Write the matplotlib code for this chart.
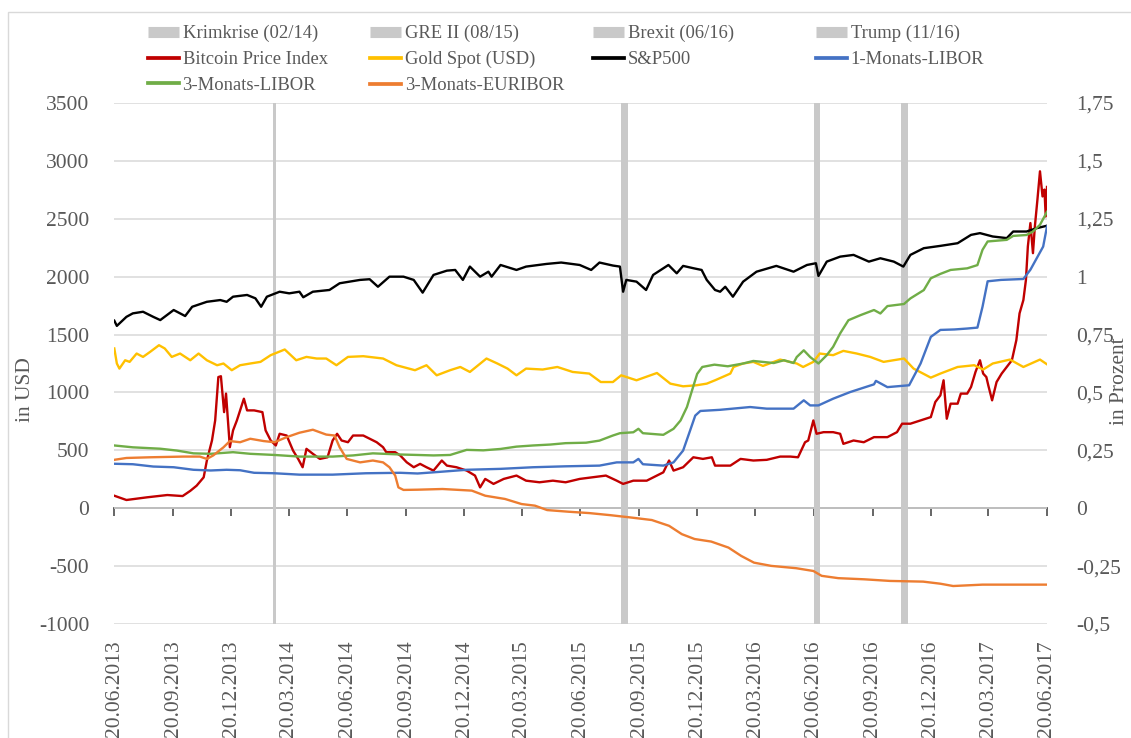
import numpy as np
import pandas as pd
import matplotlib
matplotlib.use("Agg")
import matplotlib.pyplot as plt
from matplotlib.lines import Line2D
from matplotlib.patches import Rectangle
from matplotlib.ticker import FuncFormatter

plt.rcParams['font.family'] = ['Liberation Serif', 'DejaVu Serif']
plt.rcParams['axes.unicode_minus'] = False

# ========================= DATA =========================
# left axis, USD
bitcoin = [
    ('2013-06-20', 108), ('2013-07-09', 71), ('2013-08-10', 94), ('2013-09-11', 114),
    ('2013-10-05', 105), ('2013-10-17', 150), ('2013-10-27', 195), ('2013-11-07', 267),
    ('2013-11-12', 412), ('2013-11-20', 585), ('2013-11-25', 758), ('2013-11-30', 1133),
    ('2013-12-04', 1140), ('2013-12-09', 830), ('2013-12-12', 990), ('2013-12-18', 527),
    ('2013-12-23', 672), ('2013-12-29', 758), ('2014-01-09', 946), ('2014-01-14', 845),
    ('2014-01-25', 845), ('2014-02-07', 830), ('2014-02-12', 672), ('2014-02-20', 585),
    ('2014-02-28', 542), ('2014-03-06', 643), ('2014-03-17', 628), ('2014-03-27', 498),
    ('2014-04-04', 426), ('2014-04-11', 354), ('2014-04-17', 513), ('2014-04-27', 470),
    ('2014-05-08', 426), ('2014-05-20', 440), ('2014-05-28', 585), ('2014-06-04', 643),
    ('2014-06-11', 585), ('2014-06-21', 570), ('2014-06-29', 628), ('2014-07-15', 628),
    ('2014-07-25', 600), ('2014-08-05', 570), ('2014-08-15', 527), ('2014-08-20', 484),
    ('2014-09-03', 484), ('2014-09-11', 455), ('2014-09-21', 397), ('2014-10-02', 354),
    ('2014-10-12', 383), ('2014-10-22', 354), ('2014-11-02', 325), ('2014-11-15', 412),
    ('2014-11-23', 368), ('2014-12-08', 354), ('2014-12-24', 325), ('2015-01-06', 282),
    ('2015-01-14', 180), ('2015-01-22', 253), ('2015-02-04', 210), ('2015-02-20', 253),
    ('2015-03-12', 282), ('2015-03-27', 238), ('2015-04-17', 224), ('2015-05-08', 238),
    ('2015-05-28', 224), ('2015-06-19', 253), ('2015-07-09', 267), ('2015-07-30', 282),
    ('2015-08-16', 238), ('2015-08-26', 210), ('2015-09-11', 238), ('2015-10-02', 238),
    ('2015-10-18', 282), ('2015-10-28', 310), ('2015-11-06', 412), ('2015-11-13', 325),
    ('2015-11-28', 354), ('2015-12-14', 440), ('2015-12-29', 426), ('2016-01-12', 440),
    ('2016-01-17', 368), ('2016-02-10', 368), ('2016-02-26', 426), ('2016-03-17', 412),
    ('2016-04-07', 418), ('2016-04-28', 446), ('2016-05-14', 446), ('2016-05-26', 440),
    ('2016-06-06', 570), ('2016-06-11', 585), ('2016-06-19', 758), ('2016-06-24', 643),
    ('2016-07-05', 657), ('2016-07-20', 657), ('2016-07-31', 643), ('2016-08-05', 556),
    ('2016-08-21', 585), ('2016-09-06', 570), ('2016-09-22', 614), ('2016-10-13', 614),
    ('2016-10-28', 657), ('2016-11-05', 730), ('2016-11-18', 730), ('2016-12-04', 758),
    ('2016-12-20', 787), ('2016-12-27', 917), ('2017-01-04', 975), ('2017-01-09', 1105),
    ('2017-01-14', 773), ('2017-01-20', 903), ('2017-01-31', 903), ('2017-02-05', 990),
    ('2017-02-15', 990), ('2017-02-21', 1047), ('2017-02-28', 1177), ('2017-03-07', 1278),
    ('2017-03-12', 1163), ('2017-03-17', 1133), ('2017-03-20', 1062), ('2017-03-26', 932),
    ('2017-04-02', 1090), ('2017-04-10', 1163), ('2017-04-18', 1220), ('2017-04-26', 1278),
    ('2017-05-03', 1452), ('2017-05-08', 1683), ('2017-05-14', 1798), ('2017-05-18', 1972),
    ('2017-05-21', 2260), ('2017-05-25', 2463), ('2017-05-29', 2203), ('2017-06-01', 2434),
    ('2017-06-05', 2665), ('2017-06-09', 2910), ('2017-06-13', 2693), ('2017-06-16', 2752),
    ('2017-06-18', 2520), ('2017-06-20', 2775),
]

gold = [
    ('2013-06-20', 1380), ('2013-06-24', 1250), ('2013-06-28', 1206), ('2013-07-07', 1278),
    ('2013-07-14', 1264), ('2013-07-25', 1336), ('2013-08-04', 1307), ('2013-08-15', 1350),
    ('2013-08-29', 1408), ('2013-09-07', 1380), ('2013-09-18', 1307), ('2013-10-01', 1336),
    ('2013-10-17', 1278), ('2013-10-30', 1336), ('2013-11-12', 1278), ('2013-11-28', 1235),
    ('2013-12-08', 1250), ('2013-12-21', 1192), ('2014-01-03', 1235), ('2014-01-19', 1250),
    ('2014-02-04', 1264), ('2014-02-20', 1322), ('2014-03-14', 1371), ('2014-04-01', 1278),
    ('2014-04-17', 1307), ('2014-05-03', 1293), ('2014-05-18', 1293), ('2014-06-03', 1235),
    ('2014-06-21', 1307), ('2014-07-15', 1313), ('2014-08-15', 1293), ('2014-09-05', 1235),
    ('2014-10-04', 1192), ('2014-10-22', 1235), ('2014-11-07', 1148), ('2014-11-28', 1192),
    ('2014-12-14', 1220), ('2014-12-29', 1177), ('2015-01-24', 1293), ('2015-02-10', 1250),
    ('2015-02-26', 1206), ('2015-03-12', 1148), ('2015-03-27', 1206), ('2015-04-22', 1198),
    ('2015-05-15', 1220), ('2015-06-08', 1177), ('2015-07-04', 1163), ('2015-07-22', 1090),
    ('2015-08-10', 1090), ('2015-08-23', 1148), ('2015-09-16', 1105), ('2015-10-18', 1168),
    ('2015-11-08', 1076), ('2015-11-28', 1053), ('2015-12-19', 1062), ('2016-01-04', 1076),
    ('2016-01-17', 1105), ('2016-02-10', 1163), ('2016-02-15', 1220), ('2016-03-01', 1250),
    ('2016-03-17', 1264), ('2016-04-01', 1229), ('2016-04-28', 1284), ('2016-05-24', 1250),
    ('2016-06-03', 1220), ('2016-06-19', 1264), ('2016-06-29', 1336), ('2016-07-20', 1322),
    ('2016-08-05', 1359), ('2016-08-26', 1336), ('2016-09-16', 1307), ('2016-10-07', 1264),
    ('2016-11-08', 1293), ('2016-11-23', 1206), ('2016-12-20', 1128), ('2017-01-04', 1163),
    ('2017-01-31', 1220), ('2017-02-26', 1235), ('2017-03-12', 1198), ('2017-03-27', 1250),
    ('2017-04-23', 1284), ('2017-05-14', 1220), ('2017-06-09', 1284), ('2017-06-20', 1243),
]

sp500 = [
    ('2013-06-20', 1620), ('2013-06-24', 1575), ('2013-07-09', 1653), ('2013-07-19', 1683),
    ('2013-08-04', 1697), ('2013-08-20', 1653), ('2013-08-31', 1625), ('2013-09-21', 1712),
    ('2013-10-09', 1660), ('2013-10-20', 1740), ('2013-11-12', 1783), ('2013-12-03', 1798),
    ('2013-12-13', 1783), ('2013-12-23', 1827), ('2014-01-14', 1842), ('2014-01-27', 1813),
    ('2014-02-05', 1740), ('2014-02-14', 1827), ('2014-03-06', 1870), ('2014-03-21', 1856),
    ('2014-04-06', 1870), ('2014-04-12', 1822), ('2014-04-27', 1870), ('2014-05-23', 1885),
    ('2014-06-08', 1943), ('2014-07-10', 1972), ('2014-07-25', 1978), ('2014-08-07', 1913),
    ('2014-08-25', 2000), ('2014-09-16', 2000), ('2014-10-02', 1972), ('2014-10-16', 1862),
    ('2014-11-02', 2015), ('2014-11-23', 2052), ('2014-12-06', 2058), ('2014-12-18', 1972),
    ('2014-12-29', 2087), ('2015-01-14', 2000), ('2015-01-27', 2043), ('2015-02-01', 2000),
    ('2015-02-15', 2101), ('2015-03-12', 2058), ('2015-03-27', 2087), ('2015-04-28', 2110),
    ('2015-05-21', 2122), ('2015-06-19', 2101), ('2015-07-07', 2058), ('2015-07-20', 2122),
    ('2015-08-10', 2096), ('2015-08-21', 2087), ('2015-08-26', 1870), ('2015-08-31', 1972),
    ('2015-09-16', 1957), ('2015-10-01', 1885), ('2015-10-12', 2015), ('2015-11-05', 2101),
    ('2015-11-18', 2029), ('2015-11-28', 2093), ('2015-12-14', 2073), ('2015-12-27', 2058),
    ('2016-01-04', 1972), ('2016-01-17', 1885), ('2016-01-25', 1870), ('2016-02-02', 1913),
    ('2016-02-14', 1827), ('2016-03-01', 1957), ('2016-03-22', 2043), ('2016-04-22', 2093),
    ('2016-05-19', 2043), ('2016-06-09', 2101), ('2016-06-23', 2116), ('2016-06-27', 2006),
    ('2016-07-10', 2130), ('2016-07-31', 2173), ('2016-08-21', 2188), ('2016-09-14', 2130),
    ('2016-10-02', 2159), ('2016-10-23', 2130), ('2016-11-07', 2087), ('2016-11-18', 2188),
    ('2016-12-09', 2246), ('2017-01-04', 2266), ('2017-01-31', 2289), ('2017-02-21', 2361),
    ('2017-03-07', 2376), ('2017-03-27', 2347), ('2017-04-18', 2333), ('2017-04-28', 2390),
    ('2017-05-19', 2390), ('2017-06-04', 2419), ('2017-06-20', 2440),
]

# right axis, percent
libor_1m = [
    ('2013-06-20', 0.192), ('2013-07-19', 0.19), ('2013-08-20', 0.18), ('2013-09-21', 0.177),
    ('2013-10-22', 0.166), ('2013-11-18', 0.163), ('2013-12-13', 0.166), ('2014-01-03', 0.164),
    ('2014-01-25', 0.153), ('2014-02-26', 0.151), ('2014-04-06', 0.145), ('2014-05-28', 0.145),
    ('2014-07-19', 0.151), ('2014-09-11', 0.153), ('2014-10-08', 0.15), ('2014-11-02', 0.155),
    ('2014-12-24', 0.166), ('2015-02-15', 0.17), ('2015-04-07', 0.177), ('2015-05-28', 0.181),
    ('2015-07-20', 0.184), ('2015-08-16', 0.198), ('2015-09-11', 0.198), ('2015-09-19', 0.213),
    ('2015-09-26', 0.19), ('2015-10-28', 0.184), ('2015-11-13', 0.198), ('2015-11-28', 0.249),
    ('2015-12-09', 0.336), ('2015-12-17', 0.40), ('2015-12-25', 0.42), ('2016-01-25', 0.425),
    ('2016-03-12', 0.437), ('2016-04-07', 0.43), ('2016-05-19', 0.43), ('2016-06-04', 0.466),
    ('2016-06-14', 0.444), ('2016-06-27', 0.444), ('2016-07-20', 0.473), ('2016-08-16', 0.502),
    ('2016-09-22', 0.535), ('2016-09-25', 0.55), ('2016-10-13', 0.523), ('2016-11-16', 0.531),
    ('2016-12-04', 0.625), ('2016-12-20', 0.74), ('2017-01-04', 0.77), ('2017-01-26', 0.772),
    ('2017-02-15', 0.776), ('2017-03-03', 0.78), ('2017-03-11', 0.87), ('2017-03-19', 0.98),
    ('2017-04-09', 0.986), ('2017-05-14', 0.99), ('2017-05-25', 1.03), ('2017-06-04', 1.08),
    ('2017-06-14', 1.13), ('2017-06-20', 1.217),
]

libor_3m = [
    ('2013-06-20', 0.271), ('2013-07-19', 0.263), ('2013-08-31', 0.257), ('2013-09-26', 0.249),
    ('2013-10-22', 0.237), ('2013-11-18', 0.235), ('2013-12-23', 0.242), ('2014-01-19', 0.235),
    ('2014-02-26', 0.23), ('2014-04-06', 0.223), ('2014-05-28', 0.223), ('2014-06-29', 0.228),
    ('2014-07-30', 0.237), ('2014-09-11', 0.232), ('2014-10-08', 0.23), ('2014-11-02', 0.228),
    ('2014-11-28', 0.23), ('2014-12-24', 0.252), ('2015-01-19', 0.25), ('2015-02-15', 0.256),
    ('2015-03-12', 0.266), ('2015-04-07', 0.271), ('2015-05-04', 0.275), ('2015-05-28', 0.281),
    ('2015-06-29', 0.283), ('2015-07-20', 0.292), ('2015-08-10', 0.314), ('2015-08-21', 0.324),
    ('2015-09-11', 0.328), ('2015-09-19', 0.343), ('2015-09-26', 0.324), ('2015-10-28', 0.317),
    ('2015-11-13', 0.343), ('2015-11-24', 0.379), ('2015-12-04', 0.437), ('2015-12-12', 0.509),
    ('2015-12-20', 0.58), ('2015-12-28', 0.61), ('2016-01-16', 0.62), ('2016-02-06', 0.613),
    ('2016-03-01', 0.625), ('2016-03-17', 0.636), ('2016-04-18', 0.627), ('2016-05-04', 0.639),
    ('2016-05-19', 0.627), ('2016-05-24', 0.653), ('2016-06-04', 0.682), ('2016-06-14', 0.653),
    ('2016-06-27', 0.625), ('2016-07-10', 0.661), ('2016-07-20', 0.697), ('2016-07-31', 0.755),
    ('2016-08-13', 0.812), ('2016-09-01', 0.834), ('2016-09-22', 0.856), ('2016-10-02', 0.841),
    ('2016-10-13', 0.873), ('2016-11-08', 0.882), ('2016-11-18', 0.906), ('2016-12-09', 0.942),
    ('2016-12-20', 0.993), ('2017-01-04', 1.012), ('2017-01-20', 1.029), ('2017-02-15', 1.036),
    ('2017-03-03', 1.05), ('2017-03-11', 1.116), ('2017-03-19', 1.152), ('2017-04-18', 1.159),
    ('2017-04-28', 1.176), ('2017-05-19', 1.18), ('2017-05-29', 1.195), ('2017-06-09', 1.224),
    ('2017-06-20', 1.28),
]

euribor_3m = [
    ('2013-06-20', 0.209), ('2013-07-09', 0.217), ('2013-08-15', 0.22), ('2013-10-06', 0.223),
    ('2013-11-01', 0.223), ('2013-11-12', 0.213), ('2013-11-22', 0.228), ('2013-12-08', 0.263),
    ('2013-12-18', 0.29), ('2014-01-03', 0.285), ('2014-01-19', 0.30), ('2014-02-09', 0.29),
    ('2014-02-26', 0.285), ('2014-03-17', 0.307), ('2014-04-06', 0.326), ('2014-04-27', 0.339),
    ('2014-05-18', 0.318), ('2014-05-31', 0.314), ('2014-06-08', 0.263), ('2014-06-19', 0.213),
    ('2014-07-10', 0.198), ('2014-07-30', 0.206), ('2014-08-15', 0.198), ('2014-08-25', 0.177),
    ('2014-09-03', 0.141), ('2014-09-08', 0.09), ('2014-09-16', 0.079), ('2014-10-08', 0.08),
    ('2014-11-16', 0.083), ('2015-01-01', 0.076), ('2015-01-22', 0.054), ('2015-02-22', 0.04),
    ('2015-03-20', 0.018), ('2015-04-10', 0.011), ('2015-04-29', -0.008), ('2015-06-01', -0.015),
    ('2015-07-04', -0.021), ('2015-08-06', -0.03), ('2015-09-07', -0.04), ('2015-10-10', -0.051),
    ('2015-11-06', -0.076), ('2015-11-26', -0.112), ('2015-12-16', -0.133), ('2016-01-11', -0.144),
    ('2016-02-07', -0.17), ('2016-02-27', -0.206), ('2016-03-18', -0.235), ('2016-04-14', -0.249),
    ('2016-05-23', -0.259), ('2016-06-19', -0.271), ('2016-07-02', -0.292), ('2016-07-28', -0.302),
    ('2016-09-07', -0.307), ('2016-10-17', -0.314), ('2016-12-08', -0.317), ('2017-01-04', -0.326),
    ('2017-01-24', -0.336), ('2017-03-11', -0.33), ('2017-06-20', -0.33),
]

event_labels = ['Krimkrise (02/14)', 'GRE II (08/15)', 'Brexit (06/16)', 'Trump (11/16)']
event_start = ['2014-02-23', '2015-08-22', '2016-06-20', '2016-11-04']
event_end = ['2014-02-28', '2015-09-03', '2016-06-29', '2016-11-14']

# ========================= STYLE =========================
GREY = '#595959'
BAND = '#C9C9C9'
series_left = [('Bitcoin Price Index', bitcoin, '#C00000'),
               ('Gold Spot (USD)', gold, '#FFC000'),
               ('S&P500', sp500, '#000000')]
series_right = [('1-Monats-LIBOR', libor_1m, '#4472C4'),
                ('3-Monats-LIBOR', libor_3m, '#70AD47'),
                ('3-Monats-EURIBOR', euribor_3m, '#ED7D31')]

W, H = 1131, 738
fig = plt.figure(figsize=(W / 100, H / 100), dpi=100)
ax = fig.add_axes([114.3 / W, 1 - 624 / H, (1047 - 114.3) / W, (624 - 103) / H])
ax2 = ax.twinx()

# event bands
for s, e in zip(event_start, event_end):
    ax.axvspan(pd.Timestamp(s), pd.Timestamp(e), color=BAND, lw=0, zorder=1)

handles = {}
for name, data, col in series_left:
    d, v = zip(*data)
    handles[name], = ax.plot(pd.to_datetime(list(d)), v, color=col, lw=1.7, zorder=3)
for name, data, col in series_right:
    d, v = zip(*data)
    handles[name], = ax2.plot(pd.to_datetime(list(d)), v, color=col, lw=1.7, zorder=3)

# axes
start, end = pd.Timestamp('2013-06-20'), pd.Timestamp('2017-06-20')
ax.set_xlim(start, end)
ax.set_ylim(-1000, 3500)
ax2.set_ylim(-0.5, 1.75)
ax.set_yticks(range(-1000, 3501, 500))
ax2.set_yticks(np.arange(-0.5, 1.76, 0.25))
ax2.yaxis.set_major_formatter(FuncFormatter(lambda v, p: f'{v:g}'.replace('.', ',')))

quarters = [pd.Timestamp(year=2013 + (5 + 3 * k) // 12, month=(5 + 3 * k) % 12 + 1, day=20)
            for k in range(17)]
ax.set_xticks(quarters)
ax.set_xticklabels([q.strftime('%d.%m.%Y') for q in quarters])

for a in (ax, ax2):
    for sp in a.spines.values():
        sp.set_visible(False)
ax.tick_params(axis='x', length=0, pad=12, labelrotation=90, labelsize=15.5, labelcolor=GREY)
ax.tick_params(axis='y', length=0, pad=18, labelsize=15.5, labelcolor=GREY)
ax2.tick_params(axis='y', length=0, pad=21, labelsize=15.5, labelcolor=GREY)

ax.yaxis.grid(True, color='#D9D9D9', lw=1.1)
ax.set_axisbelow(True)

# category axis line sitting at y = 0
zero_ax = ax.secondary_xaxis(1000 / 4500)
zero_ax.set_xticks(quarters)
zero_ax.tick_params(length=6, width=1.3, color=GREY, labelbottom=False, direction='out')
zero_ax.spines['bottom'].set_color(GREY)
zero_ax.spines['bottom'].set_linewidth(1.3)

# axis titles
fig.text(25 / W, 1 - 390 / H, 'in USD', rotation=90, ha='center', va='center',
         fontsize=15.5, color=GREY)
fig.text(1129 / W, 1 - 381 / H, 'in Prozent', rotation=90, ha='right', va='center',
         fontsize=15.5, color=GREY)

# legend: four columns placed like the original
band_h = [Line2D([], [], color=BAND, lw=8, solid_capstyle='butt') for _ in event_labels]
columns = [
    [(band_h[0], event_labels[0]), (handles['Bitcoin Price Index'], 'Bitcoin Price Index'),
     (handles['3-Monats-LIBOR'], '3-Monats-LIBOR')],
    [(band_h[1], event_labels[1]), (handles['Gold Spot (USD)'], 'Gold Spot (USD)'),
     (handles['3-Monats-EURIBOR'], '3-Monats-EURIBOR')],
    [(band_h[2], event_labels[2]), (handles['S&P500'], 'S&P500')],
    [(band_h[3], event_labels[3]), (handles['1-Monats-LIBOR'], '1-Monats-LIBOR')],
]
col_x = [147.7, 370, 593, 816]
for x, items in zip(col_x, columns):
    hs = []
    for h, lab in items:
        if isinstance(h, Line2D) and h.get_linewidth() < 5:
            h = Line2D([], [], color=h.get_color(), lw=2.7)
        hs.append(h)
    leg = fig.legend(hs, [lab for _, lab in items], loc='upper left',
                     bbox_to_anchor=(x / W, 1 - 25 / H), frameon=False,
                     fontsize=13.4, handlelength=1.67, handletextpad=0.2,
                     labelspacing=0.47, borderpad=0, borderaxespad=0)
    for t in leg.get_texts():
        t.set_color(GREY)

# chart area border
fig.add_artist(Rectangle((8 / W, -0.1), 1.2, 1.1 - 12 / H, transform=fig.transFigure,
                         fill=False, edgecolor='#D9D9D9', lw=1))

fig.savefig('out.png', dpi=100)
